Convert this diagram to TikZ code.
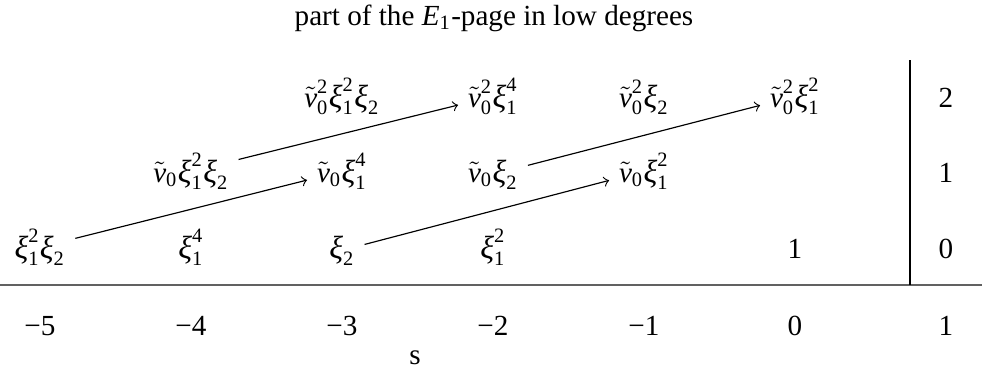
\documentclass[tikz,border=0pt]{standalone}
\usepackage{amsmath}
\usepackage{fontspec}
\setmainfont{Liberation Serif}
\newcommand\mxi{\scalebox{1.1}{\textit{ξ}}}
\newcommand\myv{\tilde{\textit{v}}}
\newcommand\nr[1]{\textrm{#1}}
\begin{document}
\begin{tikzpicture}[x=0.343pt,y=-0.343pt,
  entry/.style={anchor=base,inner sep=3.2pt},
  arr/.style={->,line width=0.4pt},
  rule/.style={line width=0.45pt},
  hrule/.style={line width=0.6pt,draw=black!62}]
\useasboundingbox (0,0) rectangle (982,370);
% title
\node[entry] (title) at (494,25) {part of the \textit{E}$_{\nr{1}}$-page in low degrees};
% row 2 (baseline 107)
\node[entry] (r2a) at (342,107) {$\myv_{\nr{0}}^{\nr{2}}\mxi_{\nr{1}}^{\nr{2}}\mxi_{\nr{2}}$};
\node[entry] (r2b) at (493,107) {$\myv_{\nr{0}}^{\nr{2}}\mxi_{\nr{1}}^{\nr{4}}$};
\node[entry] (r2c) at (644,107) {$\myv_{\nr{0}}^{\nr{2}}\mxi_{\nr{2}}$};
\node[entry] (r2d) at (795,107) {$\myv_{\nr{0}}^{\nr{2}}\mxi_{\nr{1}}^{\nr{2}}$};
\node[entry] (t2) at (946,107) {2};
% row 1 (baseline 182)
\node[entry] (r1a) at (191,182) {$\myv_{\nr{0}}\mxi_{\nr{1}}^{\nr{2}}\mxi_{\nr{2}}$};
\node[entry] (r1b) at (342,182) {$\myv_{\nr{0}}\mxi_{\nr{1}}^{\nr{4}}$};
\node[entry] (r1c) at (493,182) {$\myv_{\nr{0}}\mxi_{\nr{2}}$};
\node[entry] (r1d) at (644,182) {$\myv_{\nr{0}}\mxi_{\nr{1}}^{\nr{2}}$};
\node[entry] (t1) at (946,182) {1};
% row 0 (baseline 258)
\node[entry] (r0a) at (40,258) {$\mxi_{\nr{1}}^{\nr{2}}\mxi_{\nr{2}}$};
\node[entry] (r0b) at (191,258) {$\mxi_{\nr{1}}^{\nr{4}}$};
\node[entry] (r0c) at (342,258) {$\mxi_{\nr{2}}$};
\node[entry] (r0d) at (493,258) {$\mxi_{\nr{1}}^{\nr{2}}$};
\node[entry] (r0e) at (795,258) {1};
\node[entry] (t0) at (946,258) {0};
% bottom labels (baseline 335)
\node[entry] (s5) at (40,335) {−5};
\node[entry] (s4) at (191,335) {−4};
\node[entry] (s3) at (342,335) {−3};
\node[entry] (s2) at (493,335) {−2};
\node[entry] (s1) at (644,335) {−1};
\node[entry] (s0) at (795,335) {0};
\node[entry] (sp1) at (946,335) {1};
\node[entry] (slabel) at (415,364) {s};
% axes
\coordinate (hl) at (0,285);
\coordinate (hr) at (982,285);
\coordinate (vt) at (910,60);
\coordinate (vb) at (910,285);
\draw[hrule] (hl) -- (hr);
\draw[rule] (vt) -- (vb);
% differentials
\draw[arr] (r0a) -- (r1b);
\draw[arr] (r0c) -- (r1d);
\draw[arr] (r1a) -- (r2b);
\draw[arr] (r1c) -- (r2d);
\end{tikzpicture}
\end{document}
